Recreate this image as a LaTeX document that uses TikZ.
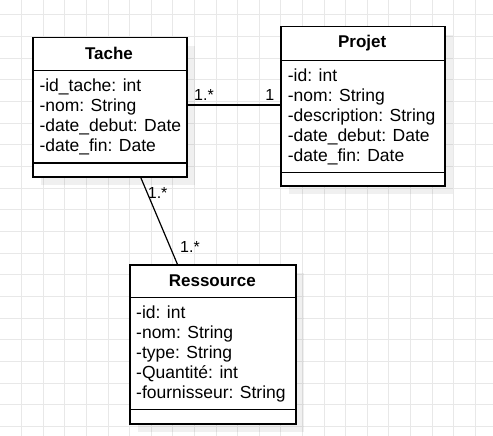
\documentclass[tikz,border=0pt]{standalone}
\usepackage{fontspec}
\setmainfont{Liberation Sans}
\usetikzlibrary{calc}
\definecolor{gridc}{HTML}{E8E8E8}
\tikzset{
  classbox/.style={draw=black, line width=1.5pt, fill=white, rectangle, anchor=north west, inner sep=0pt},
  shadowbox/.style={fill=black, fill opacity=0.06, draw=none},
  sepline/.style={draw=black, line width=1.5pt},
  ctitle/.style={font=\fontsize{17}{20}\selectfont\bfseries, inner sep=0pt, anchor=center},
  attr/.style={font=\fontsize{17.5}{20}\selectfont, inner sep=0pt, anchor=base west},
  mult/.style={font=\fontsize{16}{19}\selectfont, inner sep=0pt},
  assoc/.style={draw=black, line width=1.2pt}
}
\begin{document}
\begin{tikzpicture}[x=1pt,y=-1pt]
\useasboundingbox (0,0) rectangle (493,436);
\fill[white] (0,0) rectangle (493,436);
% grid
\foreach \k in {1,...,22} \draw[gridc, line width=1pt] ({21.6*\k},0) -- ({21.6*\k},436);
\foreach \k in {0,...,19} \draw[gridc, line width=1pt] (0,{15+21.65*\k}) -- (493,{15+21.65*\k});
% shadows
\fill[shadowbox] (41,46) rectangle (195,185);
\fill[shadowbox] (289,35) rectangle (453,194);
\fill[shadowbox] (138.3,273.3) rectangle (304.3,432);
% Tache
\node[classbox, minimum width=154pt, minimum height=139pt] (tache) at (32,37) {};
\draw[sepline] (32,70.7) -- (186,70.7);
\draw[sepline] (32,163) -- (186,163);
\node[ctitle] (tacheT) at (109,53.9) {Tache};
\foreach \t [count=\i] in {-id\_tache: int,-nom: String,-date\_debut: Date,-date\_fin: Date}
  \node[attr] (ta\i) at (39.3,{71.5+20*\i}) {\t};
% Projet
\node[classbox, minimum width=164.3pt, minimum height=159.3pt] (projet) at (280,26) {};
\draw[sepline] (280,60.3) -- (444.3,60.3);
\draw[sepline] (280,172.3) -- (444.3,172.3);
\node[ctitle] (projetT) at (362.2,43.2) {Projet};
\foreach \t [count=\i] in {-id: int,-nom: String,-description: String,-date\_debut: Date,-date\_fin: Date}
  \node[attr] (pa\i) at (287.7,{61.2+20*\i}) {\t};
% Ressource
\node[classbox, minimum width=166pt, minimum height=158.7pt] (ressource) at (129.3,264.3) {};
\draw[sepline] (129.3,297.3) -- (295.3,297.3);
\draw[sepline] (129.3,409.3) -- (295.3,409.3);
\node[ctitle] (ressT) at (212.3,280.8) {Ressource};
\foreach \t [count=\i] in {-id: int,-nom: String,-type: String,-Quantité: int,-fournisseur: String}
  \node[attr] (ra\i) at (136,{298.2+20*\i}) {\t};
% associations
\coordinate (tpA) at ($(tache.north east)+(0,68)$);
\coordinate (trA) at ($(tache.south)+(31,0)$);
\coordinate (trB) at ($(ressource.north)+(-35.6,0)$);
\draw[assoc] (tpA) -- (tpA -| projet.west);
\draw[assoc] (trA) -- (trB);
% multiplicities
\node[mult, anchor=base west] (m1) at (194,101) {1.*};
\node[mult, anchor=base east] (m2) at (274.5,101) {1};
\node[mult, anchor=base west] (m3) at (147.7,198) {1.*};
\node[mult, anchor=base west] (m4) at (180,252.5) {1.*};
\end{tikzpicture}
\end{document}
